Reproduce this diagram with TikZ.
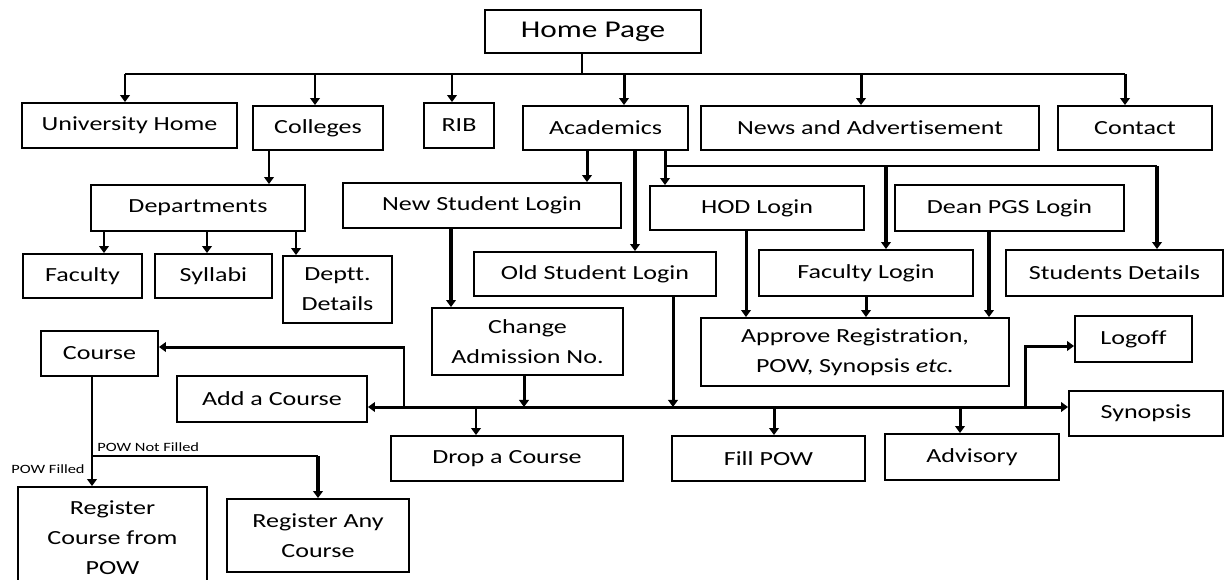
\documentclass[tikz,border=0pt]{standalone}
\usepackage{fontspec}
\setmainfont{Carlito}[FakeStretch=1.3, Ligatures=NoCommon]
\usetikzlibrary{arrows.meta}
\tikzset{
    caja/.style={draw, line width=1.1pt, inner sep=0pt, align=center, font=\fontsize{11.4}{17}\selectfont},
    conn/.style={line width=1.1pt},
    flecha/.style={line width=1.7pt, ->},
    flechagruesa/.style={line width=2.3pt, ->},
    nota/.style={font=\fontsize{7.2}{9}\selectfont, inner sep=0pt},
    >={Triangle[length=4pt,width=5.5pt]},
}

\begin{document}
\begin{tikzpicture}[x=0.02cm, y=-0.02cm]
\useasboundingbox (0,0) rectangle (1227,579);
% top
\node[caja, minimum width=4.32cm, minimum height=0.86cm, font=\fontsize{13.7}{17}\selectfont] (home) at (593,31.5) {Home Page};
\node[caja, minimum width=4.30cm, minimum height=0.90cm] (uh) at (129.5,125.5) {University Home};
\node[caja, minimum width=2.60cm, minimum height=0.88cm] (col) at (318,128) {Colleges};
\node[caja, minimum width=1.40cm, minimum height=0.90cm] (rib) at (459,125.5) {RIB};
\node[caja, minimum width=3.30cm, minimum height=0.88cm] (acad) at (605.5,128) {Academics};
\node[caja, minimum width=6.76cm, minimum height=0.88cm] (news) at (870,128) {News and Advertisement};
\node[caja, minimum width=3.08cm, minimum height=0.88cm] (contact) at (1135,128) {Contact};
\coordinate (bus) at (582,74);
\draw[conn] (home.south -| bus) -- (bus);
\draw[conn] (125,74) -- (1125,74);
\foreach \x/\n in {125/uh, 315/col, 452/rib, 624/acad, 861/news, 1125/contact}
    \draw[flecha] (\x,74) -- (\x,0 |- \n.north);
% colleges branch
\node[caja, minimum width=4.28cm, minimum height=0.92cm] (dept) at (198,208) {Departments};
\node[caja, minimum width=2.38cm, minimum height=0.88cm] (fac) at (82.5,276) {Faculty};
\node[caja, minimum width=2.34cm, minimum height=0.88cm] (syl) at (213.5,276) {Syllabi};
\node[caja, minimum width=2.18cm, minimum height=1.34cm] (deptt) at (337.5,289.5) {Deptt.\\Details};
\draw[flecha] (269,0 |- col.south) -- (269,0 |- dept.north);
\draw[flecha] (104,0 |- dept.south) -- (104,0 |- fac.north);
\draw[flecha] (207,0 |- dept.south) -- (207,0 |- syl.north);
\draw[flecha] (296,0 |- dept.south) -- (296,0 |- deptt.north);
% academics: logins
\node[caja, minimum width=5.56cm, minimum height=0.90cm] (nsl) at (482,205.5) {New Student Login};
\node[caja, minimum width=4.28cm, minimum height=0.88cm] (hod) at (757,208) {HOD Login};
\node[caja, minimum width=4.58cm, minimum height=0.92cm] (dean) at (1009.5,208) {Dean PGS Login};
\node[caja, minimum width=4.84cm, minimum height=0.88cm] (osl) at (595,274) {Old Student Login};
\node[caja, minimum width=4.28cm, minimum height=0.92cm] (facl) at (866,273) {Faculty Login};
\node[caja, minimum width=4.34cm, minimum height=0.92cm] (sd) at (1114.5,273) {Students Details};
\draw[flecha] (587,0 |- acad.south) -- (587,0 |- nsl.north);
\draw[flechagruesa] (635,0 |- acad.south) -- (635,0 |- osl.north);
\draw[flecha] (665,0 |- acad.south) -- (665,0 |- hod.north);
\coordinate (rama) at (665,166);
\draw[conn] (rama) -- (1157,166);
\draw[flechagruesa] (886,166) -- (886,0 |- facl.north);
\draw[flechagruesa] (1157,166) -- (1157,0 |- sd.north);
% approve
\node[caja, minimum width=3.82cm, minimum height=1.34cm] (change) at (527.5,341.5) {Change\\Admission No.};
\node[caja, minimum width=6.16cm, minimum height=1.36cm] (approve) at (855,352) {Approve Registration,\\POW, Synopsis \textit{etc.}};
\node[caja, minimum width=2.34cm, minimum height=0.92cm] (logoff) at (1133.5,339) {Logoff};
\draw[flechagruesa] (451,0 |- nsl.south) -- (451,0 |- change.north);
\draw[flecha] (746,0 |- hod.south) -- (746,0 |- approve.north);
\draw[flecha] (866,0 |- facl.south) -- (866,0 |- approve.north);
\draw[flechagruesa] (989,0 |- dean.south) -- (989,0 |- approve.north);
% course bus
\node[caja, minimum width=2.34cm, minimum height=0.90cm] (course) at (99.5,353.5) {Course};
\node[caja, minimum width=3.80cm, minimum height=0.92cm] (add) at (272,399) {Add a Course};
\node[caja, minimum width=3.08cm, minimum height=0.90cm] (synopsis) at (1146,413.5) {Synopsis};
\node[caja, minimum width=4.64cm, minimum height=0.90cm] (drop) at (507,458.5) {Drop a Course};
\node[caja, minimum width=3.86cm, minimum height=0.90cm] (fillpow) at (768.5,458.5) {Fill POW};
\node[caja, minimum width=3.48cm, minimum height=0.92cm] (adv) at (972,457) {Advisory};
\draw[flecha] (524,0 |- change.south) -- (524,407);
\draw[flecha] (673,0 |- osl.south) -- (673,407);
\draw[flecha, <->] (add.east |- 0,407) -- (synopsis.west |- 0,407);
\draw[flecha] (404,407) |- (course.east |- 0,347);
\draw[flecha] (476,407) -- (476,0 |- drop.north);
\draw[flecha] (774,407) -- (774,0 |- fillpow.north);
\draw[flecha] (960,407) -- (960,0 |- adv.north);
\draw[flecha] (1025,407) |- (logoff.west |- 0,346);
% register
\node[caja, minimum width=3.78cm, minimum height=2.04cm] (regpow) at (112.5,538) {Register\\Course from\\POW};
\node[caja, minimum width=3.64cm, minimum height=1.46cm] (regany) at (318,535.5) {Register Any\\Course};
\draw[flecha] (92,0 |- course.south) -- (92,0 |- regpow.north);
\draw[conn] (92,456) -- (318,456);
\draw[flechagruesa] (318,456) -- (318,0 |- regany.north);
\node[nota, anchor=west] (etqno) at (97,447) {POW Not Filled};
\node[nota, anchor=east] (etqsi) at (85,469) {POW Filled};
\end{tikzpicture}
\end{document}
